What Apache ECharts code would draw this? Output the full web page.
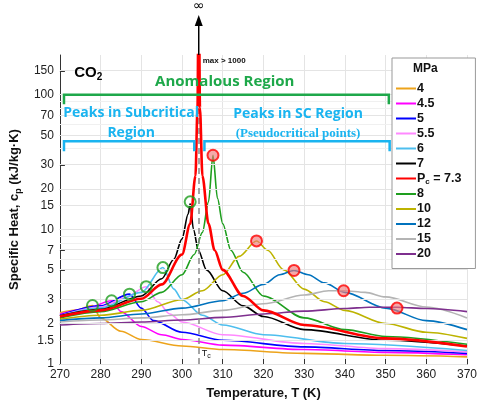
<!DOCTYPE html>
<html><head><meta charset="utf-8">
<script src="https://cdn.jsdelivr.net/npm/echarts@6/dist/echarts.min.js"></script>
<style>html,body{margin:0;padding:0;background:#fff}#c{width:480px;height:405px}</style>
</head><body><div id="c"></div>
<script>
var pressures = ['4','4.5','5','5.5','6','7','Pc = 7.3','8','10','12','15','20'];
var colors = ['#EDA31A','#FF00FF','#0000FF','#FF88FF','#4DBEEE','#000000','#FF0000','#1E9E1E','#BDB300','#0072BD','#B4B4B4','#7E2F8E'];
var curves = [
 [[270,2.4],[274,2.52],[278,2.72],[280,2.2],[285,1.75],[290,1.52],[300,1.36],[310,1.28],[330,1.2],[350,1.16],[370,1.13]],
 [[270,2.35],[276,2.55],[282.7,2.95],[285,2.45],[290,1.9],[295,1.65],[300,1.52],[310,1.38],[330,1.28],[350,1.22],[370,1.17]],
 [[270,2.3],[280,2.7],[287.1,3.3],[290,2.6],[293,2.1],[300,1.72],[310,1.5],[330,1.34],[350,1.26],[370,1.2]],
 [[270,2.28],[280,2.65],[286,3.1],[291.2,3.75],[294,2.9],[297,2.35],[300,2.05],[310,1.65],[330,1.42],[350,1.3],[370,1.23]],
 [[270,2.27],[280,2.6],[290,3.4],[295.3,5.2],[298,3.6],[300,3.0],[305,2.3],[310,1.95],[320,1.65],[340,1.42],[370,1.26]],
 [[270,2.28],[280,2.55],[290,3.2],[295,4.3],[298,6],[300,8.5],[301.5,13],[302,15.5],[302.8,10],[304,7],[306,5],[310,3.5],[315,2.7],[320,2.25],[330,1.8],[350,1.5],[370,1.36]],
 [[270,2.25],[280,2.5],[290,3.05],[295,3.9],[300,6.5],[302,11],[303.3,25],[303.8,80],[304.1,1000],[304.4,80],[305.0,25],[306.5,11],[308,7],[310,5],[315,3.2],[320,2.5],[330,1.95],[350,1.55],[370,1.35]],
 [[270,2.2],[280,2.45],[290,2.9],[295,3.4],[300,4.6],[303,6.5],[305,9.5],[306.5,16],[307.6,35.5],[308.7,17],[310,11],[312,7],[315,4.8],[320,3.2],[330,2.2],[340,1.8],[350,1.6],[370,1.4]],
 [[270,2.15],[280,2.3],[290,2.5],[300,3.0],[305,3.5],[310,4.6],[314,6.3],[318.3,8.2],[321,7],[325,5],[330,3.6],[335,2.9],[340,2.5],[350,2.0],[360,1.72],[370,1.55]],
 [[270,2.1],[280,2.2],[290,2.35],[300,2.6],[310,2.95],[315,3.35],[320,3.9],[324,4.6],[327.5,4.95],[331,4.6],[335,4.0],[340,3.4],[350,2.6],[360,2.1],[370,1.8]],
 [[270,2.05],[280,2.12],[290,2.2],[300,2.32],[310,2.5],[320,2.8],[330,3.25],[336,3.5],[339.7,3.5],[345,3.4],[350,3.15],[360,2.65],[370,2.2]],
 [[270,1.95],[280,2.0],[290,2.05],[300,2.12],[310,2.22],[320,2.35],[330,2.47],[340,2.58],[346,2.64],[352.8,2.64],[360,2.58],[370,2.45]]
];
var subPeaks = [[278,2.72],[282.7,2.95],[287.1,3.3],[291.2,3.75],[295.3,5.2],[302,16]];
var scPeaks = [[307.6,35.5],[318.3,8.2],[327.5,4.95],[339.7,3.5],[352.8,2.6]];
var yTicks = [1,1.5,2,3,5,7,10,15,20,30,50,70,100,150];
var yMinor = [4,6,8,9,40,60,80,90];
var Tc = 304.1;
var L = function(v){return Math.log10(v);};

var chart = echarts.init(document.getElementById('c'));
var series = curves.map(function(c,i){
  return {name:pressures[i], type:'line', smooth:0.3, smoothMonotone:'x', showSymbol:false, symbol:'none',
    lineStyle:{width: i===6?2.6:1.6, color:colors[i]}, itemStyle:{color:colors[i]},
    data:c.map(function(p){return [p[0],L(p[1])];}), z: i===6?5:3, clip:true};
});
series.push({type:'line', data:[], silent:true, markLine:{silent:true, symbol:'none', label:{show:false},
  data: yTicks.map(function(t){return {yAxis:L(t), lineStyle:{color:'#e4e4e4',width:1,type:'solid'}};})
   .concat(yMinor.map(function(t){return {yAxis:L(t), lineStyle:{color:'#f0f0f0',width:1,type:'solid'}};}))
   .concat([{xAxis:Tc, lineStyle:{color:'#888',width:1.5,type:[6,4]}}])}, z:1});
series.push({type:'scatter', data:subPeaks.map(function(p){return [p[0],L(p[1])];}), symbolSize:11,
  itemStyle:{color:'rgba(255,255,255,0)', borderColor:'#1E9E1E', borderWidth:2}, z:10, silent:true});
series.push({type:'scatter', data:scPeaks.map(function(p){return [p[0],L(p[1])];}), symbolSize:11,
  itemStyle:{color:'rgba(240,120,120,0.8)', borderColor:'#FF0000', borderWidth:2}, z:10, silent:true});

chart.setOption({
  animation:false,
  grid:{left:50, right:12, top:55, bottom:39},
  xAxis:{type:'value', min:270, max:370, interval:10,
    axisLine:{lineStyle:{color:'#333'}}, axisTick:{inside:true,lineStyle:{color:'#333'}},
    axisLabel:{color:'#222', fontSize:12, fontFamily:'Liberation Sans', margin:5},
    splitLine:{lineStyle:{color:'#e4e4e4'}},
    name:'Temperature, T (K)', nameLocation:'middle', nameGap:23,
    nameTextStyle:{fontWeight:'bold', fontSize:13, color:'#111', fontFamily:'Liberation Sans'}},
  yAxis:{type:'value', min:0, max:L(197),
    axisLine:{show:true, lineStyle:{color:'#333'}},
    axisTick:{show:true, inside:true, customValues:yTicks.map(L), lineStyle:{color:'#333'}},
    axisLabel:{customValues:yTicks.map(L), formatter:function(v){return String(Math.round(Math.pow(10,v)*10)/10);},
      color:'#222', fontSize:12, fontFamily:'Liberation Sans', margin:6},
    splitLine:{show:false},
    name:'{a|Specific Heat, c}{s|p}{a| (kJ/kg·K)}', nameLocation:'middle', nameGap:32,
    nameTextStyle:{rich:{a:{fontWeight:'bold', fontSize:13, color:'#111', fontFamily:'Liberation Sans'},
      s:{fontWeight:'bold', fontSize:9, color:'#111', fontFamily:'Liberation Sans', verticalAlign:'bottom', padding:[8,0,0,0]}}}},
  legend:{data:pressures, orient:'vertical', left:392, top:58, width:70, itemWidth:20, itemHeight:2, itemGap:2,
    padding:[24,14,8,4], backgroundColor:'#fff', borderColor:'#999', borderWidth:1, z:20,
    icon:'rect', formatter:function(n){return n==='Pc = 7.3'?'{b|P}{s|c}{b| = 7.3}':'{b|'+n+'}';},
    textStyle:{padding:[0,0,0,-4], rich:{b:{fontWeight:'bold', fontSize:12.5, color:'#111', fontFamily:'Liberation Sans', lineHeight:14},
      s:{fontWeight:'bold', fontSize:8, color:'#111', fontFamily:'Liberation Sans', padding:[6,0,0,0]}}}},
  series:series
});

function px(x,y){return chart.convertToPixel({gridIndex:0},[x,L(y)]);}
var g = [];
g.push({type:'text', left:413, top:63, style:{text:'MPa', font:'bold 12px Liberation Sans', fill:'#111'}, z:100});
function bracket(x1,x2,yv,yv2,col){
  var a=px(x1,yv), b=px(x2,yv), c=px(x1,yv2);
  g.push({type:'polyline', shape:{points:[[a[0],c[1]],[a[0],a[1]],[b[0],b[1]],[b[0],c[1]]]},
    style:{stroke:col, lineWidth:2.5, fill:null}, z:20});
}
bracket(271,350.8,100,85,'#1EA84A');
bracket(271,303,45,38,'#1AB4F0');
bracket(305.5,351,45,38,'#1AB4F0');
var p;
p=px(310.5,130); g.push({type:'text', x:p[0], y:p[1]+2, style:{text:'Anomalous Region', font:'bold 15px Open Sans', fill:'#1EA84A', align:'center', verticalAlign:'middle'}, z:20});
p=px(287.5,70); g.push({type:'text', x:p[0], y:p[1]+7, style:{text:'Peaks in Subcritical\nRegion', font:'bold 14px Open Sans', fill:'#1AB4F0', align:'center', verticalAlign:'middle', lineHeight:20}, z:20});
p=px(328.5,70); g.push({type:'text', x:p[0], y:p[1]-2, style:{text:'Peaks in SC Region', font:'bold 14px Open Sans', fill:'#1AB4F0', align:'center', verticalAlign:'middle'}, z:20});
g.push({type:'text', x:p[0], y:p[1]+18, style:{text:'(Pseudocritical points)', font:'bold 13px Liberation Serif', fill:'#1AB4F0', align:'center', verticalAlign:'middle'}, z:20});
p=px(273.5,150); g.push({type:'text', x:p[0], y:p[1]+2, style:{rich:{a:{font:'bold 15px Liberation Sans',fill:'#000'},s:{font:'bold 10px Liberation Sans',fill:'#000',padding:[8,0,0,0]}}, text:'{a|CO}{s|2}', verticalAlign:'middle'}, z:20});
p=px(Tc,197);
g.push({type:'text', x:p[0]+4, y:p[1]+6, style:{text:'max > 1000', font:'bold 8px Liberation Sans', fill:'#111', verticalAlign:'middle'}, z:20});
g.push({type:'line', shape:{x1:p[0],y1:p[1],x2:p[0],y2:26}, style:{stroke:'#000',lineWidth:1.5}, z:20});
g.push({type:'polygon', shape:{points:[[p[0],15],[p[0]-4,26],[p[0]+4,26]]}, style:{fill:'#000'}, z:20});
g.push({type:'text', x:p[0], y:6, style:{text:'∞', font:'14px DejaVu Sans', fill:'#000', align:'center', verticalAlign:'middle'}, z:20});
p=px(Tc,1);
g.push({type:'text', x:p[0]+3, y:p[1]-10, style:{rich:{a:{font:'9px Liberation Sans',fill:'#111'},s:{font:'7px Liberation Sans',fill:'#111',padding:[5,0,0,0]}}, text:'{a|T}{s|c}', verticalAlign:'middle'}, z:20});
chart.setOption({graphic:g});
</script></body></html>
